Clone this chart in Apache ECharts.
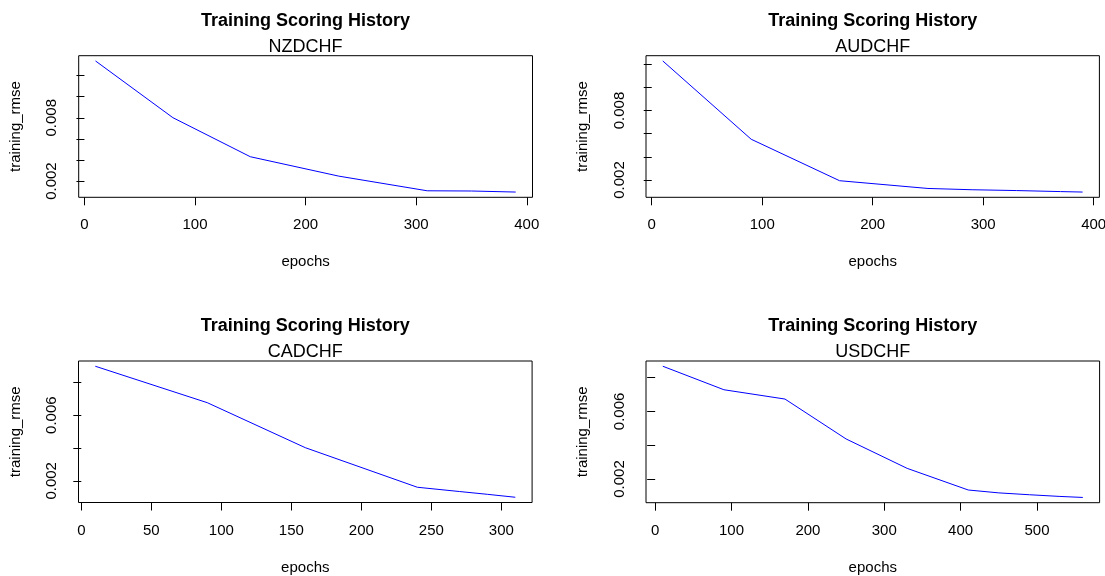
<!DOCTYPE html>
<html><head><meta charset="utf-8">
<script src="https://cdn.jsdelivr.net/npm/echarts@6/dist/echarts.min.js"></script>
<style>html,body{margin:0;padding:0;background:#fff}#c{width:1105px;height:576px}</style>
</head><body><div id="c"></div>
<script>
// ---- data ----
const mainTitle = 'Training Scoring History';
const pairNames = ['NZDCHF', 'AUDCHF', 'CADCHF', 'USDCHF'];
const xName = 'epochs';
const yName = 'training_rmse';

const nzdEpochs = [10, 80, 150, 230, 310, 350, 390];
const nzdRmse   = [0.01339, 0.00801, 0.00431, 0.00247, 0.00108, 0.00106, 0.00096];

const audEpochs = [10, 90, 170, 250, 290, 330, 370, 390];
const audRmse   = [0.01228, 0.00552, 0.00194, 0.00127, 0.00116, 0.00109, 0.00100, 0.00096];

const cadEpochs = [10, 90, 160, 240, 270, 290, 310];
const cadRmse   = [0.00898, 0.00676, 0.00402, 0.00161, 0.00135, 0.00118, 0.00100];

const usdEpochs = [10, 90, 170, 250, 330, 410, 450, 490, 530, 560];
const usdRmse   = [0.00867, 0.00728, 0.00673, 0.00437, 0.00263, 0.00135, 0.00118, 0.00107, 0.00097, 0.00091];

const xTicks400 = [0, 100, 200, 300, 400];
const xTicks300 = [0, 50, 100, 150, 200, 250, 300];
const xTicks500 = [0, 100, 200, 300, 400, 500];
const yTicksTop = [0.002, 0.004, 0.006, 0.008, 0.010, 0.012];
const yLabelsTop = [0.002, 0.008];
const yTicksBottom = [0.002, 0.004, 0.006, 0.008];
const yLabelsBottom = [0.002, 0.006];

// ---- layout ----
const boxes = [
  {left: 78.7, top: 55.7, width: 453.8, height: 141.6},
  {left: 646,  top: 55.7, width: 453.4, height: 141.6},
  {left: 78.5, top: 361,  width: 453.6, height: 141.5},
  {left: 646,  top: 361,  width: 453.6, height: 141.7}
];
const panels = [
  {epochs: nzdEpochs, rmse: nzdRmse, xTicks: xTicks400, yTicks: yTicksTop, yLabels: yLabelsTop},
  {epochs: audEpochs, rmse: audRmse, xTicks: xTicks400, yTicks: yTicksTop, yLabels: yLabelsTop},
  {epochs: cadEpochs, rmse: cadRmse, xTicks: xTicks300, yTicks: yTicksBottom, yLabels: yLabelsBottom},
  {epochs: usdEpochs, rmse: usdRmse, xTicks: xTicks500, yTicks: yTicksBottom, yLabels: yLabelsBottom}
];

const FONT = 'Liberation Sans, Arial, sans-serif';
function rRange(arr) { // R default 4% axis expansion
  const lo = Math.min(...arr), hi = Math.max(...arr), d = (hi - lo) * 0.04;
  return [lo - d, hi + d];
}

const option = {
  backgroundColor: '#ffffff',
  animation: false,
  title: [], grid: [], xAxis: [], yAxis: [], series: []
};

panels.forEach((p, i) => {
  const b = boxes[i];
  const xr = rRange(p.epochs), yr = rRange(p.rmse);
  option.title.push({
    text: mainTitle, subtext: pairNames[i],
    left: b.left + b.width / 2, textAlign: 'center', top: b.top - 44.5, padding: 0, itemGap: 6,
    textStyle: {fontFamily: FONT, fontSize: 18, fontWeight: 'bold', color: '#000', lineHeight: 20},
    subtextStyle: {fontFamily: FONT, fontSize: 18, color: '#000', lineHeight: 20}
  });
  option.grid.push({
    left: b.left, top: b.top, width: b.width, height: b.height,
    show: true, borderColor: '#000', borderWidth: 1, backgroundColor: 'transparent',
    containLabel: false, outerBoundsMode: 'none'
  });
  option.xAxis.push({
    type: 'value', gridIndex: i, min: xr[0], max: xr[1],
    name: xName, nameLocation: 'middle', nameGap: 57.5,
    nameTextStyle: {fontFamily: FONT, fontSize: 15, color: '#000'},
    axisLine: {show: false},
    axisTick: {show: true, customValues: p.xTicks, length: 8, lineStyle: {color: '#000', width: 1}},
    axisLabel: {show: true, customValues: p.xTicks, margin: 20.5, fontFamily: FONT, fontSize: 15, color: '#000',
      formatter: v => String(v)},
    splitLine: {show: false}
  });
  option.yAxis.push({
    type: 'value', gridIndex: i, min: yr[0], max: yr[1],
    name: yName, nameLocation: 'middle', nameGap: 55.5, nameRotate: 90,
    nameTextStyle: {fontFamily: FONT, fontSize: 15, color: '#000'},
    axisLine: {show: false},
    axisTick: {show: true, customValues: p.yTicks, length: 8, lineStyle: {color: '#000', width: 1}},
    axisLabel: {show: true, customValues: p.yLabels, rotate: 90, margin: 19, fontFamily: FONT, fontSize: 15, color: '#000',
      formatter: v => Number(v).toFixed(3)},
    splitLine: {show: false}
  });
  option.series.push({
    type: 'line', xAxisIndex: i, yAxisIndex: i, symbol: 'none', showSymbol: false,
    lineStyle: {color: '#0000ff', width: 1}, itemStyle: {color: '#0000ff'},
    data: p.epochs.map((e, k) => [e, p.rmse[k]])
  });
});

const chart = echarts.init(document.getElementById('c'), null, {renderer: 'canvas'});
chart.setOption(option);
</script>
</body></html>
